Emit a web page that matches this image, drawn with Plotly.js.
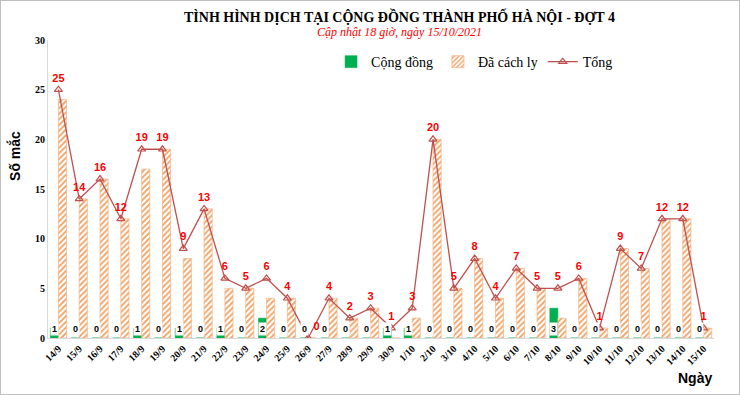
<!DOCTYPE html>
<html><head><meta charset="utf-8">
<script src="https://cdn.plot.ly/plotly-3.0.1.min.js"></script>
<style>
body{margin:0;padding:0;background:#fff;}
#wrap{position:relative;width:740px;height:395px;}
#chart{width:740px;height:395px;}
#frame{position:absolute;left:0;top:0;width:740px;height:395px;border:1px solid #BFBFBF;box-sizing:border-box;pointer-events:none;}
</style>
</head><body>
<div id="wrap"><div id="chart"></div><div id="frame"></div></div>
<script>
const days = ["14/9","15/9","16/9","17/9","18/9","19/9","20/9","21/9","22/9","23/9","24/9","25/9","26/9","27/9","28/9","29/9","30/9","1/10","2/10","3/10","4/10","5/10","6/10","7/10","8/10","9/10","10/10","11/10","12/10","13/10","14/10","15/10"];
const congDong = [1,0,0,0,1,0,1,0,1,0,2,0,0,0,0,0,1,1,0,0,0,0,0,0,3,0,0,0,0,0,0,0];
const daCachLy = [24,14,16,12,17,19,8,13,5,5,4,4,0,4,2,3,0,2,20,5,8,4,7,5,2,6,1,9,7,12,12,1];
const tong = [25,14,16,12,19,19,9,13,6,5,6,4,0,4,2,3,1,3,20,5,8,4,7,5,5,6,1,9,7,12,12,1];

const serif = "Liberation Serif, Times New Roman, serif";
const sans = "Liberation Sans, Arial, sans-serif";

const tongPos = tong.map(v => v === 0 ? 'top right' : 'top center');

const traces = [
  {type:'bar', name:'Cộng đồng', x:days, y:congDong,
   marker:{color:'#00B050', line:{color:'#00B050', width:0.5}}, hoverinfo:'skip'},
  {type:'bar', name:'Đã cách ly', x:days, y:daCachLy,
   marker:{color:'#FFFFFF', line:{color:'#F4B183', width:0.7},
     pattern:{shape:'/', fgcolor:'#F0A060', bgcolor:'#FFFFFF', size:4, solidity:0.45}}, hoverinfo:'skip'},
  {type:'scatter', mode:'lines+markers+text', name:'Tổng', x:days, y:tong,
   line:{color:'#C0504D', width:1.3},
   marker:{symbol:'triangle-up-open', size:7, color:'#C0504D', line:{width:1.2, color:'#C0504D'}},
   text:tong.map(String), textposition:tongPos,
   textfont:{family:sans, size:11, color:'#FF0000', weight:'bold'}, hoverinfo:'skip'}
];

const annotations = days.map((d,i)=>({
  x:d, y:0, xref:'x', yref:'y', xshift:-4, yshift:2, yanchor:'bottom',
  text:String(congDong[i]), showarrow:false, bgcolor:'#FFFFFF', borderpad:1,
  font:{family:sans, size:9, color:'#000000', weight:'bold'}
}));
annotations.push({xref:'paper', yref:'paper', x:-0.05, xanchor:'center', y:0.61, yanchor:'middle',
  text:'Số mắc', textangle:-90, showarrow:false, font:{family:sans, size:14, color:'#000', weight:'bold'}});
annotations.push({xref:'paper', yref:'paper', x:1.0, xanchor:'right', y:-0.135, yanchor:'middle',
  text:'Ngày', showarrow:false, font:{family:sans, size:14, color:'#000', weight:'bold'}});
annotations.push({xref:'paper', yref:'paper', x:0.528, xanchor:'center', y:1.08, yanchor:'middle',
  text:'TÌNH HÌNH DỊCH TẠI CỘNG ĐỒNG THÀNH PHỐ HÀ NỘI - ĐỢT 4', showarrow:false,
  font:{family:serif, size:14, color:'#000', weight:'bold'}});
annotations.push({xref:'paper', yref:'paper', x:0.528, xanchor:'center', y:1.027, yanchor:'middle',
  text:'<i>Cập nhật 18 giờ, ngày 15/10/2021</i>', showarrow:false,
  font:{family:serif, size:12, color:'#FF0000'}});

const layout = {
  width:740, height:395,
  margin:{l:48, r:26, t:40, b:57},
  paper_bgcolor:'#FFFFFF', plot_bgcolor:'#FFFFFF',
  barmode:'group', bargap:0.22, bargroupgap:0,
  showlegend:true,
  legend:{orientation:'h', x:0.425, xanchor:'left', y:0.926, yanchor:'middle',
    font:{family:serif, size:14, color:'#000'}, bgcolor:'rgba(0,0,0,0)', itemwidth:30},
  xaxis:{type:'category', range:[-0.5, days.length-0.5], tickangle:-45, showline:true, linecolor:'#D9D9D9', linewidth:1,
    ticks:'', showgrid:false, zeroline:false, automargin:false,
    tickfont:{family:serif, size:10, color:'#000', weight:'bold'}},
  yaxis:{range:[0,30], dtick:5, showline:true, linecolor:'#D9D9D9', linewidth:1,
    ticks:'', showgrid:false, zeroline:false, automargin:false,
    tickfont:{family:serif, size:10, color:'#000', weight:'bold'}},
  annotations:annotations
};

Plotly.newPlot('chart', traces, layout, {displayModeBar:false, staticPlot:true});
</script>
</body></html>
